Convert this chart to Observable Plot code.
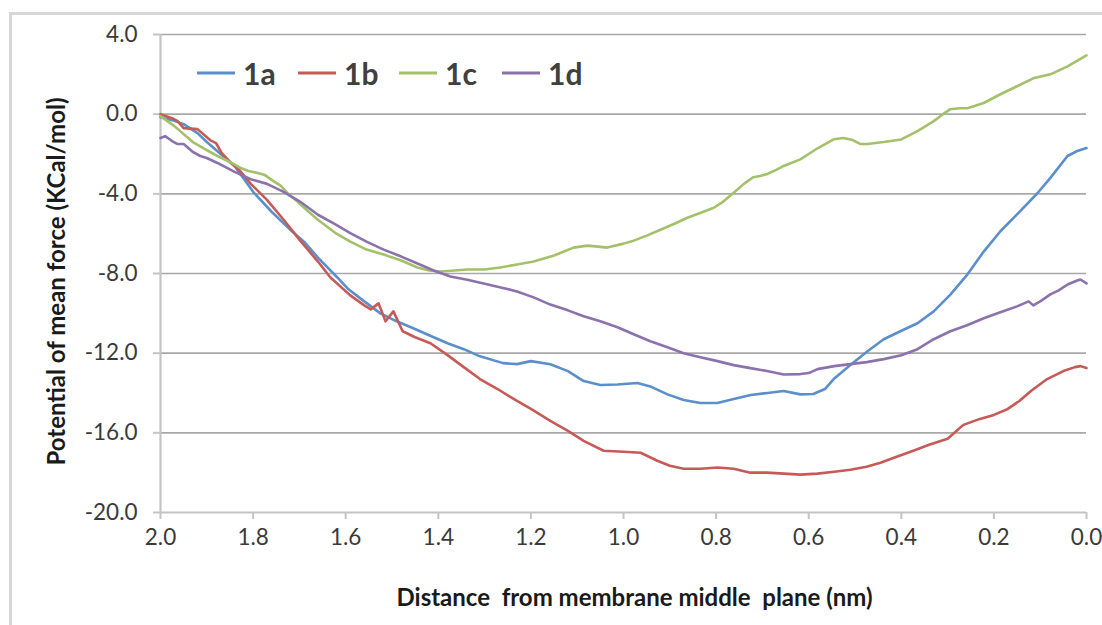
<!DOCTYPE html>
<html>
<head>
<meta charset="utf-8">
<script src="https://cdn.jsdelivr.net/npm/d3@7"></script>
<script src="https://cdn.jsdelivr.net/npm/@observablehq/plot@0.6"></script>
<style>
  html, body { margin: 0; padding: 0; background: #fff; }
  #wrap { position: relative; width: 1102px; height: 625px; overflow: hidden; font-family: Lato, sans-serif; }
  #frame { position: absolute; left: 9px; top: 12px; width: 1200px; height: 800px; border-left: 3px solid #d6d6d6; border-top: 3px solid #d6d6d6; }
  #chart { position: absolute; left: 0; top: 0; }
  .leg { position: absolute; top: 58px; height: 30px; display: flex; align-items: center; }
  .leg span { font-family: Lato, sans-serif; font-weight: 700; font-size: 30px; color: #404040; margin-left: 8px; line-height: 30px; }
</style>
</head>
<body>
<div id="wrap">
  <div id="frame"></div>
  <div id="chart"></div>
  <div id="legend"></div>
</div>
<script>
// ---- data ----
const seriesNames = ["1a", "1b", "1c", "1d"];
const seriesColors = ["#5b8fc9", "#c65a56", "#a3c06a", "#8c72ac"];

const x1a = [2.0,1.975,1.95,1.92,1.9,1.877,1.84,1.8,1.76,1.72,1.69,1.66,1.618,1.596,1.56,1.525,1.49,1.454,1.42,1.38,1.345,1.31,1.26,1.23,1.2,1.158,1.12,1.086,1.05,1.013,0.97,0.942,0.905,0.87,0.834,0.797,0.762,0.725,0.689,0.654,0.618,0.59,0.565,0.546,0.51,0.473,0.438,0.402,0.365,0.33,0.294,0.257,0.222,0.186,0.15,0.106,0.078,0.041,0.02,0.0];
const y1a = [-0.15,-0.3,-0.5,-0.95,-1.4,-1.86,-2.6,-3.9,-4.9,-5.8,-6.4,-7.2,-8.2,-8.75,-9.4,-10.0,-10.4,-10.75,-11.1,-11.5,-11.8,-12.16,-12.5,-12.55,-12.4,-12.56,-12.9,-13.4,-13.6,-13.57,-13.5,-13.67,-14.07,-14.35,-14.5,-14.5,-14.3,-14.1,-14.0,-13.9,-14.07,-14.05,-13.8,-13.3,-12.6,-11.9,-11.3,-10.9,-10.5,-9.9,-9.06,-8.04,-6.9,-5.88,-5.03,-3.97,-3.2,-2.1,-1.85,-1.7];

const x1b = [2.0,1.975,1.963,1.95,1.92,1.893,1.88,1.868,1.85,1.83,1.805,1.77,1.734,1.7,1.66,1.633,1.59,1.56,1.546,1.529,1.514,1.497,1.477,1.45,1.417,1.38,1.345,1.31,1.272,1.23,1.2,1.158,1.12,1.086,1.043,1.0,0.963,0.927,0.9,0.87,0.834,0.797,0.762,0.726,0.69,0.654,0.618,0.581,0.545,0.51,0.475,0.445,0.41,0.374,0.34,0.3,0.266,0.23,0.2,0.17,0.145,0.12,0.085,0.05,0.025,0.013,0.0];
const y1b = [0.0,-0.2,-0.35,-0.7,-0.75,-1.3,-1.45,-1.95,-2.4,-2.8,-3.5,-4.3,-5.3,-6.3,-7.4,-8.2,-9.1,-9.6,-9.8,-9.5,-10.4,-9.9,-10.9,-11.2,-11.5,-12.1,-12.7,-13.3,-13.8,-14.4,-14.8,-15.4,-15.9,-16.4,-16.9,-16.95,-17.0,-17.4,-17.65,-17.8,-17.8,-17.74,-17.8,-18.0,-18.0,-18.05,-18.1,-18.05,-17.95,-17.85,-17.7,-17.5,-17.2,-16.9,-16.6,-16.3,-15.6,-15.3,-15.1,-14.8,-14.4,-13.9,-13.3,-12.9,-12.7,-12.65,-12.75];

const x1c = [2.0,1.97,1.93,1.9,1.877,1.85,1.827,1.81,1.79,1.775,1.76,1.74,1.72,1.705,1.68,1.66,1.62,1.59,1.555,1.518,1.48,1.445,1.42,1.395,1.365,1.337,1.3,1.266,1.23,1.194,1.15,1.108,1.078,1.055,1.035,1.0,0.978,0.95,0.92,0.89,0.862,0.833,0.805,0.785,0.762,0.74,0.72,0.705,0.689,0.67,0.654,0.618,0.6,0.58,0.546,0.525,0.505,0.488,0.473,0.438,0.4,0.365,0.33,0.31,0.294,0.275,0.257,0.222,0.186,0.15,0.115,0.078,0.041,0.0];
const y1c = [-0.1,-0.6,-1.4,-1.8,-2.1,-2.4,-2.7,-2.85,-2.95,-3.05,-3.3,-3.6,-4.1,-4.37,-4.9,-5.3,-6.0,-6.4,-6.8,-7.05,-7.35,-7.7,-7.85,-7.9,-7.85,-7.8,-7.8,-7.7,-7.55,-7.4,-7.1,-6.7,-6.6,-6.65,-6.7,-6.5,-6.35,-6.1,-5.8,-5.5,-5.2,-4.95,-4.7,-4.4,-3.95,-3.5,-3.17,-3.1,-3.0,-2.8,-2.6,-2.27,-2.0,-1.7,-1.26,-1.2,-1.3,-1.5,-1.5,-1.4,-1.27,-0.85,-0.35,0.0,0.25,0.3,0.3,0.56,1.0,1.4,1.8,2.0,2.4,2.95];

const x1d = [2.0,1.99,1.975,1.963,1.95,1.93,1.914,1.9,1.877,1.84,1.805,1.77,1.734,1.698,1.66,1.625,1.59,1.555,1.518,1.48,1.445,1.41,1.374,1.34,1.302,1.265,1.23,1.194,1.158,1.12,1.086,1.05,1.013,0.978,0.942,0.905,0.87,0.834,0.797,0.762,0.726,0.69,0.654,0.618,0.6,0.581,0.545,0.51,0.475,0.438,0.4,0.365,0.33,0.294,0.258,0.222,0.186,0.15,0.125,0.115,0.1,0.078,0.06,0.041,0.02,0.013,0.0];
const y1d = [-1.2,-1.1,-1.35,-1.5,-1.5,-1.9,-2.1,-2.2,-2.45,-2.9,-3.27,-3.5,-3.9,-4.4,-5.05,-5.5,-5.97,-6.4,-6.8,-7.15,-7.5,-7.85,-8.15,-8.3,-8.5,-8.7,-8.9,-9.2,-9.56,-9.85,-10.15,-10.4,-10.7,-11.05,-11.4,-11.7,-12.0,-12.2,-12.4,-12.6,-12.75,-12.9,-13.07,-13.05,-13.0,-12.8,-12.65,-12.55,-12.45,-12.3,-12.1,-11.8,-11.3,-10.9,-10.6,-10.25,-9.95,-9.65,-9.4,-9.6,-9.4,-9.05,-8.85,-8.55,-8.35,-8.3,-8.5];

const xTicks = [2.0,1.8,1.6,1.4,1.2,1.0,0.8,0.6,0.4,0.2,0.0];
const yTicks = [4,0,-4,-8,-12,-16,-20];
const xTitle = "Distance\u00a0 from membrane middle\u00a0 plane (nm)";
const yTitle = "Potential of mean force (KCal/mol)";

// ---- build table ----
const xs = [x1a, x1b, x1c, x1d];
const ys = [y1a, y1b, y1c, y1d];
const data = seriesNames.flatMap((name, k) => xs[k].map((x, i) => ({series: name, x, y: ys[k][i]})));

const chart = Plot.plot({
  width: 1102,
  height: 625,
  marginLeft: 160,
  marginRight: 16,
  marginTop: 34,
  marginBottom: 113,
  style: {fontFamily: "Lato, sans-serif", fontSize: "22.5px", background: "transparent", overflow: "visible"},
  x: {domain: [2, 0]},
  y: {domain: [-20, 4]},
  color: {domain: seriesNames, range: seriesColors},
  marks: [
    Plot.gridY(yTicks.filter(v => v > -20), {stroke: "#a8a8a8", strokeOpacity: 1, strokeWidth: 1.6}),
    Plot.ruleY([-20], {stroke: "#c4c4c4", strokeWidth: 2.2}),
    Plot.ruleX([2], {stroke: "#c4c4c4", strokeWidth: 2.2}),
    Plot.axisX({ticks: xTicks, tickFormat: d => d.toFixed(1), tickSize: 7, tickPadding: 10, label: null, stroke: "#c4c4c4", strokeWidth: 2, fill: "#3a3a3a"}),
    Plot.axisY({ticks: yTicks, tickFormat: d => d.toFixed(1), tickSize: 7, tickPadding: 16, label: null, stroke: "#c4c4c4", strokeWidth: 2, fill: "#3a3a3a"}),
    Plot.line(data, {x: "x", y: "y", z: "series", stroke: "series", strokeWidth: 2.6, strokeLinejoin: "round"}),
    Plot.text([xTitle], {frameAnchor: "bottom", textAnchor: "middle", dy: 93, dx: 11, fontWeight: "bold", fontSize: 24, fill: "#1a1a1a"}),
    Plot.text([yTitle], {frameAnchor: "left", textAnchor: "middle", rotate: -90, dx: -103, dy: 8, fontWeight: "bold", fontSize: 24, fill: "#1a1a1a"})
  ]
});
document.getElementById("chart").appendChild(chart);

// ---- legend (HTML overlay) ----
const legendLefts = [197, 298, 399, 502];
const legend = document.getElementById("legend");
seriesNames.forEach((name, i) => {
  const item = document.createElement("div");
  item.className = "leg";
  item.style.left = legendLefts[i] + "px";
  item.innerHTML = `<svg width="38" height="8"><line x1="0" y1="4" x2="38" y2="4" stroke="${seriesColors[i]}" stroke-width="3"/></svg><span>${name}</span>`;
  legend.appendChild(item);
});
</script>
</body>
</html>
